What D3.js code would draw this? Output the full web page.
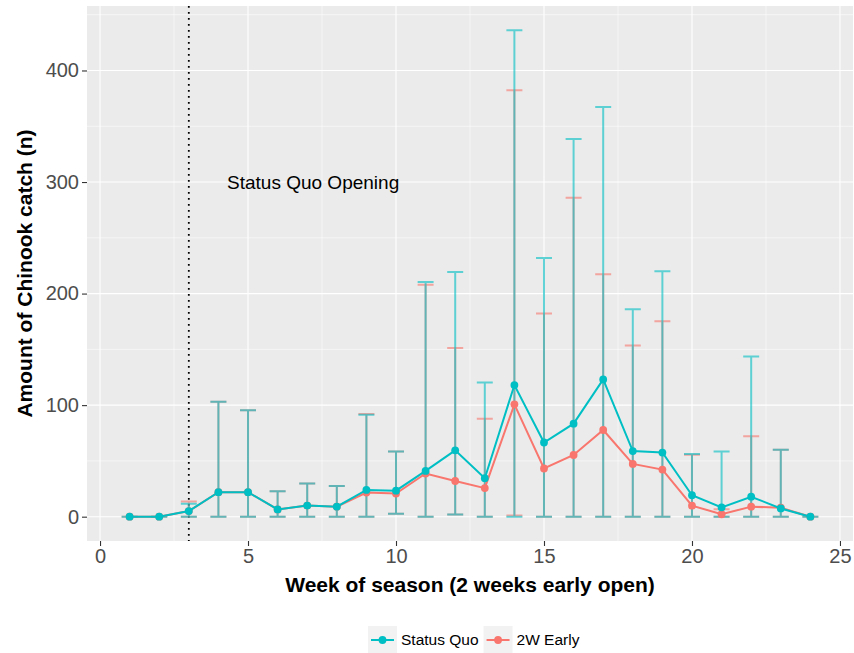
<!DOCTYPE html>
<html>
<head>
<meta charset="utf-8">
<script src="https://cdn.jsdelivr.net/npm/d3@7"></script>
<style>
  body { margin: 0; background: #fff; }
  svg { font-family: "Liberation Sans", Arial, Helvetica, sans-serif; }
</style>
</head>
<body>
<div id="chart"></div>
<script>
// Chinook catch per week, two opening scenarios
const weeks = d3.range(1, 25);

const quoMean = [0, 0, 5, 22, 22, 6.5, 10, 9, 24, 23.3, 41, 59.5, 34.5, 118, 66.5, 83.4, 123, 58.8, 57.5, 19.2, 8.3, 17.9, 7.4, 0];
const quoLow  = [0, 0, 0, 0, 0, 0, 0, 0, 0, 2.6, 0, 2, 0, 0, 0, 0, 0, 0, 0, 0, 0, 0, 0, 0];
const quoHigh = [0, 0, 11.5, 103, 95.5, 22.7, 29.7, 27.5, 91.4, 58.5, 210.4, 219.3, 120.2, 436, 231.8, 338.6, 367.3, 186, 220, 56.3, 58.5, 143.5, 60, 0];

const earlyMean = [0, 0, 5, 22, 22, 6.5, 10, 9, 21.7, 20.8, 38.7, 32, 25.6, 100.7, 43.2, 55.3, 77.7, 47.3, 42.2, 9.9, 2.2, 9, 8, 0];
const earlyLow  = [0, 0, 0, 0, 0, 0, 0, 0, 0, 2.6, 0, 2, 0, 1, 0, 0, 0, 0, 0, 0, 0, 0, 0, 0];
const earlyHigh = [0, 0, 13.7, 103, 95.5, 22.7, 29.7, 27.5, 92, 58.5, 208, 151.2, 87.9, 382.3, 182.2, 285.8, 217.4, 153.5, 175.2, 55.6, 6.7, 72, 60, 0];

const xTicks = [0, 5, 10, 15, 20, 25];
const yTicks = [0, 100, 200, 300, 400];
const openingWeek = 3;

const series = [
    { name: "2W Early", color: "#F8766D", mean: earlyMean, low: earlyLow, high: earlyHigh },
    { name: "Status Quo", color: "#00BFC4", mean: quoMean, low: quoLow, high: quoHigh }
];
const legendOrder = ["Status Quo", "2W Early"];

const width = 854, height = 653;
const margin = { top: 6, right: 1, bottom: 112, left: 87 };
const pw = width - margin.left - margin.right;
const ph = height - margin.top - margin.bottom;

const svg = d3.select('#chart').append('svg')
    .attr('width', width)
    .attr('height', height);

const g = svg.append('g')
    .attr('transform', `translate(${margin.left},${margin.top})`);

const x = d3.scaleLinear().domain([-0.44, 25.44]).range([0, pw]);
const y = d3.scaleLinear().domain([-21.8, 457.8]).range([ph, 0]);

// panel background
g.append('rect')
    .attr('width', pw).attr('height', ph)
    .attr('fill', '#EBEBEB');

// minor grid
g.selectAll('.xminor').data(d3.range(2.5, 25, 5)).enter().append('line')
    .attr('x1', d => x(d)).attr('x2', d => x(d))
    .attr('y1', 0).attr('y2', ph)
    .attr('stroke', '#fff').attr('stroke-width', 0.55);
g.selectAll('.yminor').data([50, 150, 250, 350, 450]).enter().append('line')
    .attr('y1', d => y(d)).attr('y2', d => y(d))
    .attr('x1', 0).attr('x2', pw)
    .attr('stroke', '#fff').attr('stroke-width', 0.55);

// major grid
g.selectAll('.xmajor').data(xTicks).enter().append('line')
    .attr('x1', d => x(d)).attr('x2', d => x(d))
    .attr('y1', 0).attr('y2', ph)
    .attr('stroke', '#fff').attr('stroke-width', 1.1);
g.selectAll('.ymajor').data(yTicks).enter().append('line')
    .attr('y1', d => y(d)).attr('y2', d => y(d))
    .attr('x1', 0).attr('x2', pw)
    .attr('stroke', '#fff').attr('stroke-width', 1.1);

// opening week marker
g.append('line')
    .attr('x1', x(openingWeek)).attr('x2', x(openingWeek))
    .attr('y1', 0).attr('y2', ph)
    .attr('stroke', '#000').attr('stroke-width', 1.8)
    .attr('stroke-dasharray', '1.8,4.2');

g.append('text')
    .attr('x', x(7.2)).attr('y', y(300))
    .attr('dy', '0.35em')
    .attr('text-anchor', 'middle')
    .style('font-size', '19px')
    .attr('fill', '#000')
    .text('Status Quo Opening');

// error bars
const capHalf = 0.27;
series.forEach(s => {
    const eb = g.append('g')
        .attr('stroke', s.color)
        .attr('stroke-width', 2)
        .attr('opacity', 0.6)
        .attr('fill', 'none');
    weeks.forEach((w, i) => {
        const path = d3.path();
        path.moveTo(x(w - capHalf), y(s.high[i]));
        path.lineTo(x(w + capHalf), y(s.high[i]));
        path.moveTo(x(w), y(s.high[i]));
        path.lineTo(x(w), y(s.low[i]));
        path.moveTo(x(w - capHalf), y(s.low[i]));
        path.lineTo(x(w + capHalf), y(s.low[i]));
        eb.append('path').attr('d', path.toString());
    });
});

// lines and points
const line = d3.line()
    .x(d => x(d.w))
    .y(d => y(d.v));

series.forEach(s => {
    const pts = weeks.map((w, i) => ({ w: w, v: s.mean[i] }));
    g.append('path')
        .datum(pts)
        .attr('d', line)
        .attr('fill', 'none')
        .attr('stroke', s.color)
        .attr('stroke-width', 2);
    g.selectAll(null).data(pts).enter().append('circle')
        .attr('cx', d => x(d.w))
        .attr('cy', d => y(d.v))
        .attr('r', 3.9)
        .attr('fill', s.color);
});

// axes
const xAxis = g.append('g')
    .attr('transform', `translate(0,${ph})`)
    .call(d3.axisBottom(x).tickValues(xTicks).tickSize(5).tickPadding(3));
const yAxis = g.append('g')
    .call(d3.axisLeft(y).tickValues(yTicks).tickSize(5).tickPadding(3));

[xAxis, yAxis].forEach(a => {
    a.select('.domain').remove();
    a.selectAll('.tick line').attr('stroke', '#333').attr('stroke-width', 1.1);
    a.selectAll('.tick text')
        .attr('fill', '#4D4D4D')
        .style('font-size', '20px')
        .style('font-family', '"Liberation Sans", Arial, sans-serif');
});

svg.append('text')
    .attr('x', margin.left + x(12.5))
    .attr('y', 592)
    .attr('text-anchor', 'middle')
    .style('font-size', '21px')
    .style('font-weight', 'bold')
    .text('Week of season (2 weeks early open)');

svg.append('text')
    .attr('transform', `translate(32,${margin.top + ph / 2}) rotate(-90)`)
    .attr('text-anchor', 'middle')
    .style('font-size', '21px')
    .style('font-weight', 'bold')
    .text('Amount of Chinook catch (n)');

// legend
const legend = svg.append('g').attr('transform', 'translate(368,626)');
let lx = 0;
legendOrder.forEach(name => {
    const s = series.find(d => d.name === name);
    const item = legend.append('g').attr('transform', `translate(${lx},0)`);
    item.append('rect')
        .attr('width', 29).attr('height', 28)
        .attr('fill', '#F2F2F2');
    item.append('line')
        .attr('x1', 3).attr('x2', 26)
        .attr('y1', 14).attr('y2', 14)
        .attr('stroke', s.color).attr('stroke-width', 2);
    item.append('circle')
        .attr('cx', 14.5).attr('cy', 14).attr('r', 3.9)
        .attr('fill', s.color);
    const t = item.append('text')
        .attr('x', 33).attr('y', 14)
        .attr('dy', '0.35em')
        .style('font-size', '15.5px')
        .text(name);
    lx += 33 + t.node().getComputedTextLength() + 5;
});
</script>
</body>
</html>
